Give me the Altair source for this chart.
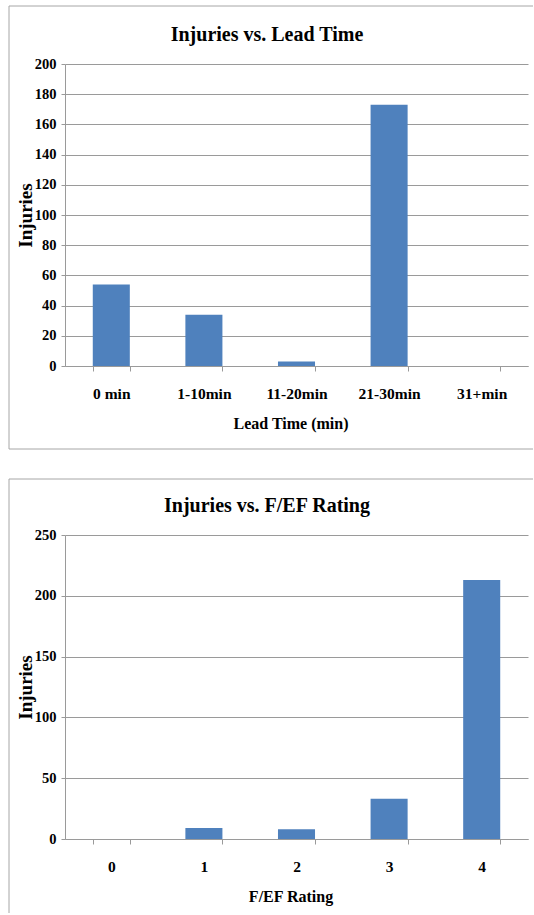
import altair as alt
import pandas as pd

# ---- data ----
lead_categories = ["0 min", "1-10min", "11-20min", "21-30min", "31+min"]
lead_injuries = [54, 34, 3, 173, 0]

rating_categories = ["0", "1", "2", "3", "4"]
rating_injuries = [0, 9, 8, 33, 213]

FONT = "Liberation Serif"
BAR = "#4F81BD"
GRID = "#9A9A9A"
FRAME = "#A6A6A6"
W = 463


def panel(cats, vals, xtitle, title, ymax, ystep, h, ftop, fbottom, right_x, closed):
    df = pd.DataFrame({"cat": cats, "inj": vals})
    bars = alt.Chart(df).mark_bar(color=BAR).encode(
        x=alt.X(
            "cat:N",
            sort=cats,
            title=xtitle,
            scale=alt.Scale(paddingInner=0.6, paddingOuter=0.3),
            axis=alt.Axis(
                labelAngle=0,
                tickBand="extent",
                tickSize=5,
                labelPadding=15,
                labelFont=FONT,
                labelFontWeight="bold",
                labelFontSize=15.5,
                labelColor="black",
                titleFont=FONT,
                titleFontWeight="bold",
                titleFontSize=16,
                titleColor="black",
                titleBaseline="alphabetic",
                titleY=62,
                titleX=W / 2 - 6,
                grid=False,
                domainColor=GRID,
                tickColor=GRID,
            ),
        ),
        y=alt.Y(
            "inj:Q",
            title="Injuries",
            scale=alt.Scale(domain=[0, ymax], nice=False),
            axis=alt.Axis(
                values=list(range(0, ymax + 1, ystep)),
                tickSize=4,
                labelPadding=5,
                labelFont=FONT,
                labelFontWeight="bold",
                labelFontSize=14.5,
                labelColor="black",
                titleFont=FONT,
                titleFontWeight="bold",
                titleFontSize=19,
                titleColor="black",
                titleBaseline="alphabetic",
                titleAngle=270,
                titleX=-34,
                grid=True,
                gridColor=GRID,
                gridWidth=1,
                domainColor=GRID,
                tickColor=GRID,
            ),
        ),
    )
    one = pd.DataFrame({"k": [0]})
    top_rule = alt.Chart(one).mark_rule(color=FRAME, strokeWidth=1).encode(
        x=alt.value(-56), x2=alt.value(right_x), y=alt.value(ftop)
    )
    left_rule = alt.Chart(one).mark_rule(color=FRAME, strokeWidth=1).encode(
        x=alt.value(-56), y=alt.value(ftop), y2=alt.value(fbottom)
    )
    layers = [bars, top_rule, left_rule]
    if closed:
        bottom_rule = alt.Chart(one).mark_rule(color=FRAME, strokeWidth=1).encode(
            x=alt.value(-56), x2=alt.value(right_x), y=alt.value(fbottom)
        )
        layers.append(bottom_rule)
    ttl = alt.Chart(pd.DataFrame({"t": [title]})).mark_text(
        font=FONT, fontSize=20, fontWeight="bold", align="center",
        baseline="alphabetic", color="black"
    ).encode(x=alt.value(202), y=alt.value(-23), text="t:N")
    layers.append(ttl)
    return alt.layer(*layers).properties(width=W, height=h)


top = panel(lead_categories, lead_injuries, "Lead Time (min)",
            "Injuries vs. Lead Time", 200, 20, 302, -58, 385, 468, True)
bottom = panel(rating_categories, rating_injuries, "F/EF Rating",
               "Injuries vs. F/EF Rating", 250, 50, 304, -56, 378, 468, False)

chart = alt.vconcat(top, bottom, spacing=28).properties(
    padding={"left": 8, "top": 5, "right": 0, "bottom": 0},
    background="white",
).configure_view(strokeWidth=0)

chart.save("out.html", embed_options={"renderer": "svg", "actions": False})
